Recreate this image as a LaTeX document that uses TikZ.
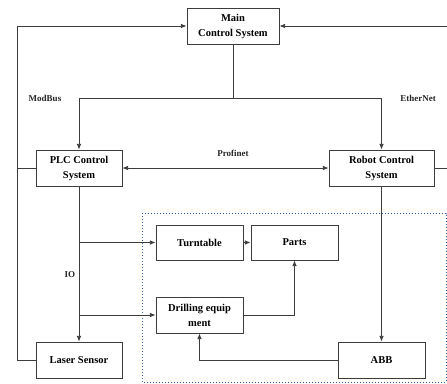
\documentclass[tikz,border=0pt]{standalone}
\usepackage{fontspec}
\setmainfont{Liberation Serif}
\usetikzlibrary{arrows.meta,calc}
\definecolor{linegray}{RGB}{60,60,60}
\definecolor{zoneblue}{RGB}{45,100,160}
\tikzset{
  arrow/.style={-{Latex[length=2mm,width=1.6mm]}, line width=.8pt, draw=linegray},
  wire/.style={line width=.8pt, draw=linegray},
  box/.style={draw=linegray, line width=.9pt, fill=white, align=center, font=\bfseries\fontsize{10.5}{15}\selectfont, inner sep=1pt},
  tag/.style={font=\bfseries\fontsize{9}{10}\selectfont, text=black!85}
}

\begin{document}
\begin{tikzpicture}[x=1pt,y=-1pt]
  \useasboundingbox (0,0) rectangle (447,383);
  % Workcell zone.
  \draw[zoneblue, dotted, line width=1pt] (142,213) rectangle (446,382);

  % Control level.
  \node[box, minimum width=92pt, minimum height=36pt] (main) at (233,26) {Main\\Control System};
  \node[box, minimum width=86pt, minimum height=36pt] (plc) at (79,168) {PLC Control\\System};
  \node[box, minimum width=105pt, minimum height=36pt] (robot) at (381.5,168) {Robot Control\\System};

  % Field level.
  \node[box, minimum width=87pt, minimum height=35pt] (turn) at (199.5,242.5) {Turntable};
  \node[box, minimum width=87pt, minimum height=35pt] (parts) at (294.5,242.5) {Parts};
  \node[box, minimum width=87pt, minimum height=36pt] (drill) at (199.5,315) {Drilling equip\\ment};
  \node[box, minimum width=86pt, minimum height=36pt] (laser) at (79,360) {Laser Sensor};
  \node[box, minimum width=87pt, minimum height=36pt] (abb) at (381.5,360) {ABB};

  % Buses.
  \coordinate (lbus) at (17,26);
  \coordinate (rbus) at (447,26);
  \coordinate (split) at (233,98);
  \draw[arrow] (laser.west) -| (lbus) -- (main.west);
  \draw[wire] (plc.west) -- (plc.west -| lbus);
  \draw[arrow] (rbus) -- (main.east);
  \draw[wire] (robot.east) -- (robot.east -| rbus);
  \draw[wire] (main.south) -- (split);
  \draw[arrow] (split) -| (plc.north);
  \draw[arrow] (split) -| (robot.north);
  \draw[arrow, {Latex[length=2mm,width=1.6mm]}-{Latex[length=2mm,width=1.6mm]}] (plc.east) -- (robot.west);

  % IO wiring.
  \draw[arrow] (plc.south) -- (laser.north);
  \draw[arrow] (plc.south |- turn.west) -- (turn.west);
  \draw[arrow] (plc.south |- drill.west) -- (drill.west);
  \draw[arrow] (turn.east) -- (parts.west);
  \draw[arrow] (drill.east) -| (parts.south);
  \draw[arrow] (robot.south) -- (abb.north);
  \draw[arrow] (abb.west) -| (drill.south);

  % Labels.
  \node[tag] (modbus) at (45,98) {ModBus};
  \node[tag] (ethernet) at (418,98) {EtherNet};
  \node[tag] (profinet) at (233,153) {Profinet};
  \node[tag] (io) at (70,275) {IO};
\end{tikzpicture}
\end{document}
